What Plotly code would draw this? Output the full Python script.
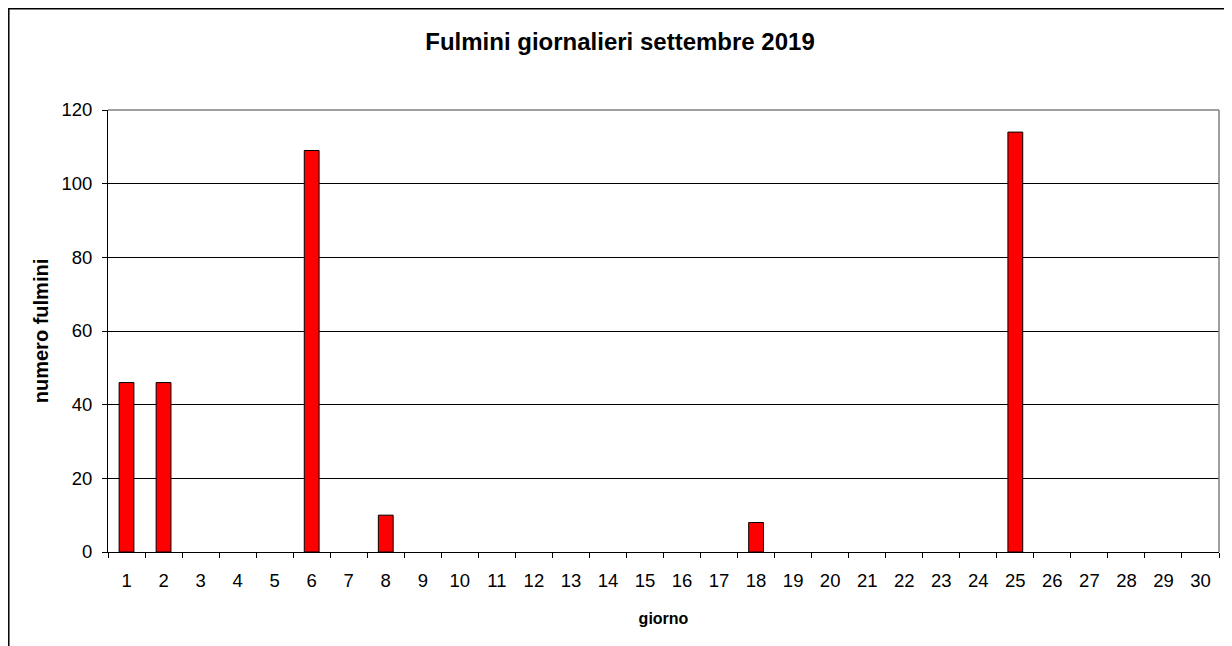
import plotly.graph_objects as go

# daily lightning counts, September 2019
days = [str(d) for d in range(1, 31)]
fulmini = [46, 46, 0, 0, 0, 109, 0, 10, 0, 0,
           0, 0, 0, 0, 0, 0, 0, 8, 0, 0,
           0, 0, 0, 0, 114, 0, 0, 0, 0, 0]
y_ticks = [0, 20, 40, 60, 80, 100, 120]

FONT = "Liberation Sans, Arial, sans-serif"

fig = go.Figure()
# no outline on empty days, like the Excel original
fig.add_trace(go.Bar(x=days, y=fulmini,
                     marker=dict(color="#ff0000",
                                 line=dict(color="black", width=[1 if v > 0 else 0 for v in fulmini]))))

fig.update_xaxes(type="category", tickson="boundaries", ticks="outside", ticklen=5, tickcolor="black",
                 showline=True, linecolor="black", linewidth=1, showgrid=False,
                 ticklabelstandoff=12, tickfont=dict(size=18.5, color="black"),
                 title=dict(text="<b>giorno</b>", font=dict(size=16, color="black"), standoff=22))
fig.update_yaxes(range=[0, 120], tickvals=y_ticks, ticks="outside", ticklen=5, tickcolor="black",
                 showline=True, linecolor="black", linewidth=1, showgrid=True, gridcolor="black", gridwidth=1,
                 zeroline=False, ticklabelstandoff=6, tickfont=dict(size=18.5, color="black"),
                 title=dict(text="<b>numero fulmini</b>", font=dict(size=20, color="black"), standoff=7))

# grey plot-area border on top and right, Excel style
fig.add_shape(type="line", xref="paper", yref="paper", x0=0, x1=1, y0=1, y1=1,
              line=dict(color="#808080", width=1.5), layer="above")
fig.add_shape(type="line", xref="paper", yref="paper", x0=1, x1=1, y0=0, y1=1,
              line=dict(color="#808080", width=1.5), layer="above")
# outer chart frame (runs off the right and bottom of the page)
fig.add_shape(type="rect", xref="paper", yref="paper", x0=-0.0893, x1=1.05, y0=-0.30, y1=1.229,
              line=dict(color="black", width=1.5), layer="above")

# the page body adds an 8 px offset, so the figure is 8 px smaller than the window
fig.update_layout(
    width=1224, height=638, bargap=0.6, showlegend=False,
    paper_bgcolor="white", plot_bgcolor="white",
    font=dict(family=FONT, color="black"),
    margin=dict(l=100, r=13, t=102, b=94, autoexpand=False),
    title=dict(text="<b>Fulmini giornalieri settembre 2019</b>", x=0.5, xanchor="center",
               y=1 - 34 / 638, yanchor="middle", font=dict(size=24, color="black")),
)

fig.write_html("out.html")
